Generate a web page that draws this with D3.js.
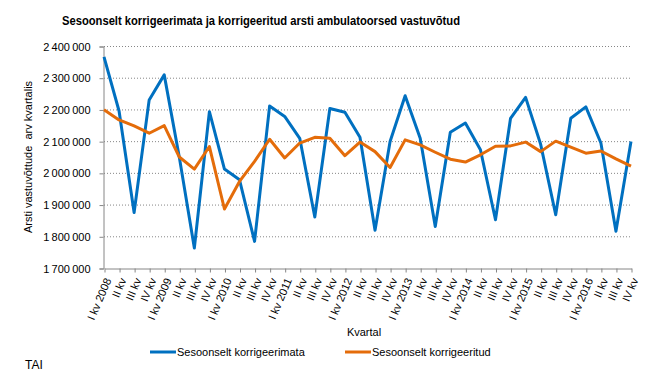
<html>
<head>
  <meta charset="utf-8">
  <script src="https://d3js.org/d3.v7.min.js"></script>
  <style>
    body { margin: 0; background: #fff; }
    text { font-family: "Liberation Sans", Arial, sans-serif; fill: #000; }
  </style>
</head>
<body>
  <div id="chart"></div>
  <script>
    // quarters on the x axis
    var quarters = [
      'I kv 2008', 'II kv', 'III kv', 'IV kv',
      'I kv 2009', 'II kv ', 'III kv ', 'IV kv ',
      'I kv 2010', 'II kv  ', 'III kv  ', 'IV kv  ',
      'I kv 2011', 'II kv   ', 'III kv   ', 'IV kv   ',
      'I kv 2012', 'II kv    ', 'III kv    ', 'IV kv    ',
      'I kv 2013', 'II kv     ', 'III kv     ', 'IV kv     ',
      'I kv 2014', 'II kv      ', 'III kv      ', 'IV kv      ',
      'I kv 2015', 'II kv       ', 'III kv       ', 'IV kv       ',
      'I kv 2016', 'II kv        ', 'III kv        ', 'IV kv        '
    ];

    // Sesoonselt korrigeerimata
    var unadjusted = [
      2366000, 2195000, 1875000, 2230000,
      2309000, 2050000, 1763000, 2193000,
      2012000, 1978000, 1784000, 2211000,
      2178000, 2109000, 1861000, 2203000,
      2191000, 2112000, 1819000, 2099000,
      2243000, 2109000, 1831000, 2128000,
      2157000, 2073000, 1852000, 2172000,
      2238000, 2090000, 1868000, 2172000,
      2208000, 2094000, 1816000, 2099000
    ];

    // Sesoonselt korrigeeritud
    var adjusted = [
      2199000, 2167000, 2148000, 2125000,
      2149000, 2050000, 2012000, 2083000,
      1886000, 1973000, 2036000, 2106000,
      2047000, 2094000, 2112000, 2109000,
      2054000, 2097000, 2067000, 2017000,
      2104000, 2088000, 2065000, 2043000,
      2034000, 2057000, 2084000, 2085000,
      2097000, 2067000, 2100000, 2081000,
      2062000, 2069000, 2044000, 2021000
    ];

    var yTicks = [1700000, 1800000, 1900000, 2000000, 2100000, 2200000, 2300000, 2400000];

    var seriesNames = ['Sesoonselt korrigeerimata', 'Sesoonselt korrigeeritud'];
    var colors = ['#0070C0', '#E46C0A'];

    var width = 653, height = 374;
    var plotLeft = 104, plotRight = 631, plotTop = 46, plotBottom = 268;
    var axisColor = '#868686';

    var svg = d3.select('#chart').append('svg')
        .attr('width', width)
        .attr('height', height);

    var x = d3.scalePoint().domain(quarters).range([plotLeft, plotRight]);
    var y = d3.scaleLinear().domain([1700000, 2400000]).range([plotBottom, plotTop]);

    var loc = d3.formatLocale({decimal: ',', thousands: '\u2009', grouping: [3], currency: ['', '']});
    var fmt = loc.format(',');

    // title
    svg.append('text')
        .attr('x', 261)
        .attr('y', 25)
        .attr('text-anchor', 'middle')
        .style('font-weight', 'bold')
        .style('font-size', '12.5px')
        .attr('textLength', 398)
        .attr('lengthAdjust', 'spacingAndGlyphs')
        .text('Sesoonselt korrigeerimata ja korrigeeritud arsti ambulatoorsed vastuvõtud');

    // gridlines
    svg.append('g')
        .selectAll('line')
        .data(yTicks.slice(1))
        .enter().append('line')
        .attr('x1', plotLeft)
        .attr('x2', plotRight)
        .attr('y1', function(d) { return y(d) + 0.5; })
        .attr('y2', function(d) { return y(d) + 0.5; })
        .attr('stroke', axisColor)
        .attr('stroke-dasharray', '1,2');

    // y axis
    var yAxis = svg.append('g')
        .attr('transform', 'translate(' + (plotLeft - 0.5) + ',0.5)')
        .call(d3.axisLeft(y).tickValues(yTicks).tickSize(4).tickPadding(9).tickFormat(fmt));
    yAxis.select('.domain').attr('stroke', axisColor);
    yAxis.selectAll('.tick line').attr('stroke', axisColor);
    yAxis.selectAll('.tick text')
        .style('font-size', '11px')
        .attr('fill', '#000')
        .style('font-family', '"Liberation Sans", Arial, sans-serif');

    // x axis
    var xAxis = svg.append('g')
        .attr('transform', 'translate(0.5,' + (plotBottom + 0.5) + ')')
        .call(d3.axisBottom(x).tickSize(4).tickSizeOuter(0));
    xAxis.select('.domain').attr('stroke', axisColor);
    xAxis.selectAll('.tick line').attr('stroke', axisColor);
    xAxis.selectAll('.tick text')
        .text(function(d) { return d.trim(); })
        .style('font-size', '11px')
        .attr('fill', '#000')
        .style('font-family', '"Liberation Sans", Arial, sans-serif')
        .attr('text-anchor', 'end')
        .attr('dy', '0.35em')
        .attr('transform', 'translate(3,10) rotate(-67)')
        .attr('x', 0)
        .attr('y', 0);

    // axis titles
    svg.append('text')
        .attr('transform', 'translate(32,157) rotate(-90)')
        .attr('text-anchor', 'middle')
        .attr('xml:space', 'preserve')
        .style('font-size', '11px')
        .text('Arsti vastuvõttude  arv kvartalis');

    svg.append('text')
        .attr('x', 364)
        .attr('y', 336)
        .attr('text-anchor', 'middle')
        .style('font-size', '11px')
        .text('Kvartal');

    // lines
    var line = d3.line()
        .x(function(d, i) { return x(quarters[i]); })
        .y(function(d) { return y(d); });

    [unadjusted, adjusted].forEach(function(s, i) {
      svg.append('path')
          .datum(s)
          .attr('fill', 'none')
          .attr('stroke', colors[i])
          .attr('stroke-width', 3)
          .attr('stroke-linejoin', 'round')
          .attr('d', line);
    });

    // legend
    var legendX = [150, 345];
    seriesNames.forEach(function(name, i) {
      var g = svg.append('g').attr('transform', 'translate(' + legendX[i] + ',352)');
      g.append('line')
          .attr('x1', 0).attr('x2', 26)
          .attr('stroke', colors[i])
          .attr('stroke-width', 3);
      g.append('text')
          .attr('x', 27)
          .attr('y', 4)
          .style('font-size', '11px')
          .text(name);
    });

    // source
    svg.append('text')
        .attr('x', 25)
        .attr('y', 369)
        .style('font-size', '12px')
        .text('TAI');
  </script>
</body>
</html>
